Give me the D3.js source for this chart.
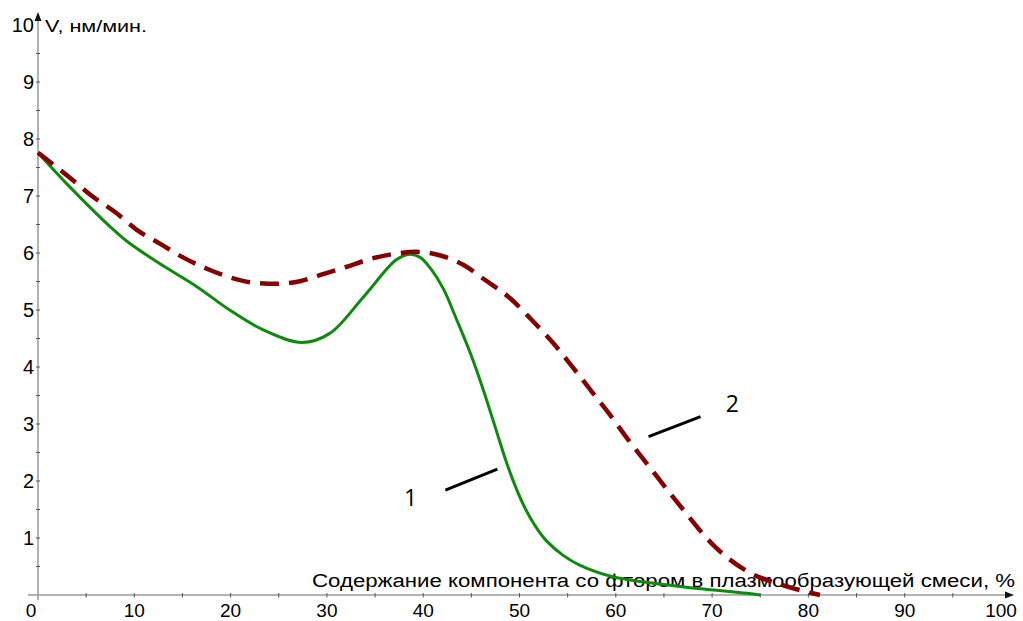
<!DOCTYPE html>
<html>
<head>
<meta charset="utf-8">
<script src="https://cdn.jsdelivr.net/npm/d3@7"></script>
<style>
    body { margin: 0; background: #fff; }
    svg { display: block; }
</style>
</head>
<body>
<svg id="chart"></svg>
<script>
// curve 1 (green, solid)
const curve1X = [0, 3.3, 7.5, 9.2, 12.3, 16.5, 19.9, 23.4, 27.4, 30.3, 33.8, 37.2, 38.6, 39.7, 40.8, 42.1, 43.5, 44.9, 46.2, 47.6, 48.6, 49.4, 50.3, 51.1, 52.0, 52.8, 54.5, 56.3, 59.7, 66.7, 73.6, 75];
const curve1Y = [7.76, 7.16, 6.46, 6.21, 5.85, 5.41, 5.0, 4.65, 4.43, 4.59, 5.23, 5.88, 5.98, 5.92, 5.72, 5.37, 4.82, 4.24, 3.62, 2.88, 2.35, 1.98, 1.62, 1.36, 1.12, 0.95, 0.70, 0.52, 0.32, 0.15, 0.03, 0];

// curve 2 (dark red, dashed)
const curve2X = [0, 3.25, 5.6, 8.0, 10.3, 12.7, 15.2, 17.6, 20.0, 22.4, 24.8, 27.3, 29.6, 31.9, 34.4, 36.8, 39.3, 41.7, 44.2, 46.4, 49.0, 51.3, 53.5, 55.6, 57.5, 59.4, 61.3, 63.2, 66.7, 70.1, 73.6, 77.4, 81.2];
const curve2Y = [7.76, 7.33, 7.0, 6.72, 6.40, 6.16, 5.91, 5.72, 5.57, 5.48, 5.46, 5.51, 5.63, 5.75, 5.89, 5.98, 6.02, 5.96, 5.79, 5.53, 5.21, 4.82, 4.42, 3.98, 3.57, 3.16, 2.72, 2.31, 1.56, 0.88, 0.42, 0.17, 0];

const xTickLabels = [0, 10, 20, 30, 40, 50, 60, 70, 80, 90, 100];
const yTickLabels = [1, 2, 3, 4, 5, 6, 7, 8, 9, 10];

// callout marks "1" and "2": label position and leader line ends, in data units
const calloutNames = ["1", "2"];
const calloutLabelPos = [[38.7, 1.70], [72.1, 3.36]];
const calloutLines = [[[42.3, 1.84], [47.7, 2.21]], [[63.4, 2.78], [68.8, 3.13]]];

const xTitle = "Содержание компонента со фтором в плазмообразующей смеси, %";
const yTitle = "V, нм/мин.";

const width = 1023;
const height = 621;
const axisColor = "#999";
const font = "'Liberation Sans', Arial, sans-serif";

const svg = d3.select("#chart")
    .attr("width", width)
    .attr("height", height);

const x = d3.scaleLinear().domain([0, 100]).range([38, 1001]);
const y = d3.scaleLinear().domain([0, 10]).range([595, 25]);

// axis lines
svg.append("line")
    .attr("x1", x(0) - 10).attr("x2", 1010)
    .attr("y1", y(0)).attr("y2", y(0))
    .attr("stroke", axisColor).attr("stroke-width", 1.5);
svg.append("line")
    .attr("x1", x(0)).attr("x2", x(0))
    .attr("y1", y(0) + 5).attr("y2", 16)
    .attr("stroke", axisColor).attr("stroke-width", 1.5);

// arrows
svg.append("path")
    .attr("d", `M1014,${y(0)} L1005,${y(0) - 3.5} L1005,${y(0) + 3.5} Z`)
    .attr("fill", "#111");
svg.append("path")
    .attr("d", `M${x(0)},12 L${x(0) - 3.5},21 L${x(0) + 3.5},21 Z`)
    .attr("fill", "#111");

// ticks
const xTicks = d3.range(5, 100, 5);
svg.append("g").selectAll("line")
    .data(xTicks)
    .enter().append("line")
    .attr("x1", d => x(d)).attr("x2", d => x(d))
    .attr("y1", y(0) - 2).attr("y2", y(0) + 2.5)
    .attr("stroke", "#555").attr("stroke-width", 1);

const yTicks = d3.range(0.5, 10, 0.5);
svg.append("g").selectAll("line")
    .data(yTicks)
    .enter().append("line")
    .attr("x1", x(0) - 2).attr("x2", x(0) + 2)
    .attr("y1", d => y(d)).attr("y2", d => y(d))
    .attr("stroke", "#555").attr("stroke-width", 1);

// tick labels
svg.append("g").selectAll("text")
    .data(xTickLabels)
    .enter().append("text")
    .attr("x", d => d === 0 ? x(d) - 7 : x(d))
    .attr("y", 617)
    .attr("text-anchor", "middle")
    .attr("font-family", font)
    .attr("font-size", "19px")
    .attr("fill", "#000")
    .text(d => d);

svg.append("g").selectAll("text")
    .data(yTickLabels)
    .enter().append("text")
    .attr("x", 34)
    .attr("y", d => y(d))
    .attr("dy", "0.36em")
    .attr("text-anchor", "end")
    .attr("font-family", font)
    .attr("font-size", "20px")
    .attr("fill", "#000")
    .text(d => d);

// axis titles
svg.append("text")
    .attr("x", 312)
    .attr("y", 587)
    .attr("font-family", font)
    .attr("font-size", "18px")
    .attr("textLength", 703)
    .attr("lengthAdjust", "spacingAndGlyphs")
    .attr("fill", "#000")
    .text(xTitle);

svg.append("text")
    .attr("x", 45)
    .attr("y", 32)
    .attr("font-family", font)
    .attr("font-size", "16px")
    .attr("textLength", 102)
    .attr("lengthAdjust", "spacingAndGlyphs")
    .attr("fill", "#000")
    .text(yTitle);

// curves
const line1 = d3.line()
    .x(d => x(d[0]))
    .y(d => y(d[1]))
    .curve(d3.curveCatmullRom.alpha(0.5));

const line2 = d3.line()
    .x(d => x(d[0]))
    .y(d => y(d[1]))
    .curve(d3.curveMonotoneX);

const data1 = curve1X.map((v, i) => [v, curve1Y[i]]);
const data2 = curve2X.map((v, i) => [v, curve2Y[i]]);

svg.append("path")
    .datum(data1)
    .attr("d", line1)
    .attr("fill", "none")
    .attr("stroke", "#0f8a0f")
    .attr("stroke-width", 3);

svg.append("path")
    .datum(data2)
    .attr("d", line2)
    .attr("fill", "none")
    .attr("stroke", "#850000")
    .attr("stroke-width", 4.5)
    .attr("stroke-dasharray", "19,10");

// callouts
svg.append("g").selectAll("line")
    .data(calloutLines)
    .enter().append("line")
    .attr("x1", d => x(d[0][0])).attr("y1", d => y(d[0][1]))
    .attr("x2", d => x(d[1][0])).attr("y2", d => y(d[1][1]))
    .attr("stroke", "#000")
    .attr("stroke-width", 3);

svg.append("g").selectAll("text")
    .data(calloutNames)
    .enter().append("text")
    .attr("x", (d, i) => x(calloutLabelPos[i][0]))
    .attr("y", (d, i) => y(calloutLabelPos[i][1]))
    .attr("dy", "0.36em")
    .attr("text-anchor", "middle")
    .attr("font-family", "'Open Sans', 'Noto Sans', sans-serif")
    .attr("font-size", "23px")
    .attr("fill", "#000")
    .text(d => d);
</script>
</body>
</html>
